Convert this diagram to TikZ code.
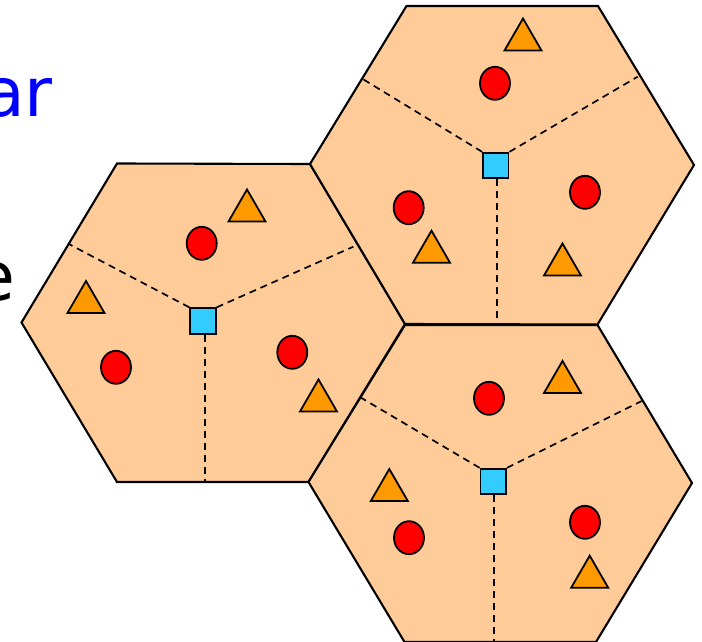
\documentclass[tikz,border=0pt]{standalone}
\usepackage{fontspec}
\setmainfont{DejaVu Sans}
\usetikzlibrary{shapes.geometric}
\definecolor{hexfill}{HTML}{FFCC99}
\definecolor{dotred}{HTML}{FF0000}
\definecolor{triorange}{HTML}{FF9900}
\definecolor{sqcyan}{HTML}{33CCFF}
\tikzset{
  hexcell/.style={fill=hexfill,draw=black,line width=2.1pt,line join=miter},
  sector/.style={draw=black,line width=1.7pt,dash pattern=on 7pt off 5pt},
  station/.style={rectangle,draw=black,line width=1.8pt,fill=sqcyan,minimum size=25.5pt,inner sep=0pt},
  user/.style={ellipse,draw=black,line width=1.8pt,fill=dotred,minimum width=30pt,minimum height=33pt,inner sep=0pt},
  tri/.style={draw=black,line width=1.8pt,fill=triorange,line join=miter},
  bigtext/.style={font=\fontsize{68}{80}\selectfont,inner sep=0pt}
}
\newcommand{\mytri}[2]{\draw[tri] (#1-18.5,#2+32) -- (#1+18.5,#2+32) -- (#1,#2) -- cycle;}
\begin{document}
\begin{tikzpicture}[x=1pt,y=-1pt]
\useasboundingbox (0,0) rectangle (702,642);
% text fragments
\node[bigtext,text=blue,anchor=base east] (txtA) at (53,117) {ar};
\node[bigtext,text=black,anchor=base east] (txtB) at (16,300) {e};
% hexagons
\path[hexcell] (117,163.5) -- (310,164) -- (405,324) -- (308.5,482) -- (117,482) -- (21.5,322.5) -- cycle;
\path[hexcell] (406.5,6) -- (598,6) -- (694,165) -- (597.5,324.5) -- (405,324) -- (310,164) -- cycle;
\path[hexcell] (405,325) -- (597.5,325) -- (692,483) -- (596,642) -- (404.5,642) -- (308.5,482) -- cycle;
% edge points
\coordinate (a1) at (69.3,244.3);
\coordinate (a2) at (353.3,246.7);
\coordinate (a3) at (205,482);
\coordinate (b1) at (362.7,79);
\coordinate (b2) at (637.7,76.7);
\coordinate (b3) at (497.3,324.5);
\coordinate (c1) at (359.3,396.7);
\coordinate (c2) at (641.7,401);
\coordinate (c3) at (494.3,642);
% base stations
\node[station] (s1) at (203,321) {};
\node[station] (s2) at (495.8,165.5) {};
\node[station] (s3) at (493.3,481.5) {};
% sector borders
\draw[sector] (s1.north west) -- (a1);
\draw[sector] (s1.north east) -- (a2);
\draw[sector] (s1.south) ++(2,0) -- (a3);
\draw[sector] (s2.north west) -- (b1);
\draw[sector] (s2.north east) -- (b2);
\draw[sector] (s2.south) ++(1.5,0) -- (b3);
\draw[sector] (s3.north west) -- (c1);
\draw[sector] (s3.north east) -- (c2);
\draw[sector] (s3.south) ++(1,0) -- (c3);
% users
\node[user] (u1) at (201.7,243.3) {};
\node[user] (u2) at (116,367.3) {};
\node[user] (u3) at (292.3,352.3) {};
\node[user] (u4) at (495,83.3) {};
\node[user] (u5) at (408.7,207.7) {};
\node[user] (u6) at (585,192.3) {};
\node[user] (u7) at (489,398.3) {};
\node[user] (u8) at (409,537.7) {};
\node[user] (u9) at (585,522.3) {};
% triangles
\mytri{247}{189.5}
\mytri{86}{281}
\mytri{318.5}{379.5}
\mytri{523}{18.5}
\mytri{431.5}{230.7}
\mytri{562.5}{243.5}
\mytri{562.5}{361}
\mytri{389.3}{469}
\mytri{589.7}{555.7}
\end{tikzpicture}
\end{document}
